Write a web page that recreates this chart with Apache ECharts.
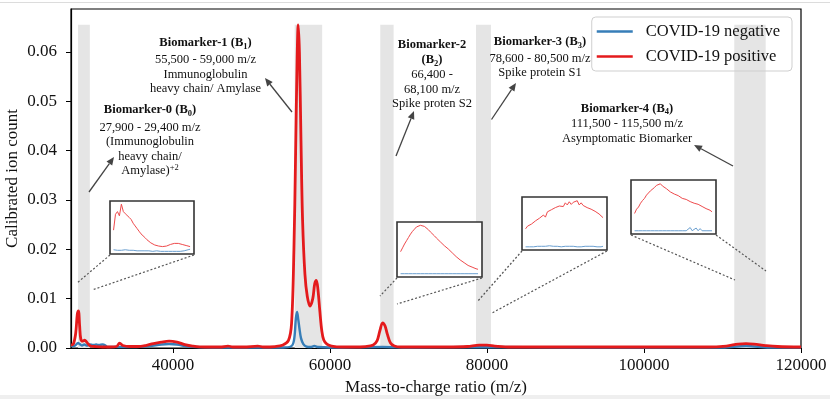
<!DOCTYPE html>
<html>
<head>
<meta charset="utf-8">
<script src="https://cdn.jsdelivr.net/npm/echarts@6/dist/echarts.min.js"></script>
<style>html,body{margin:0;padding:0;background:#fff}#c{width:830px;height:399px}</style>
</head>
<body>
<div id="c"></div>
<script>
// ---- main spectrum data (m/z, calibrated ion count) ----
var mzPos = [27000,27300,27600,27800,27950,28100,28250,28500,28750,28950,29200,29500,30000,31000,32000,32800,33200,33600,34500,35500,36500,37500,38500,39500,40500,41500,42500,44000,46000,47000,47600,49000,50800,51500,53000,54000,54700,55100,55400,55600,55800,55950,56100,56300,56500,56800,57100,57450,57800,58050,58250,58450,58700,58950,59200,59600,60200,61500,63000,64500,65500,66000,66350,66700,67000,67300,67700,68200,69000,72000,75000,77500,79000,80000,81000,83000,88000,93000,98000,103000,108000,110500,112000,113000,114000,115500,117000,120000];
var valPos = [0.0006,0.0008,0.0030,0.0068,0.0075,0.0045,0.0018,0.0014,0.0016,0.0013,0.0008,0.0004,0.0003,0.0002,0.0002,0.0003,0.0010,0.0005,0.0003,0.0003,0.0005,0.0009,0.0012,0.0014,0.0012,0.0007,0.0004,0.0002,0.0002,0.0004,0.0002,0.0002,0.0004,0.0002,0.0003,0.0006,0.0015,0.0050,0.0200,0.0380,0.0580,0.0655,0.0600,0.0420,0.0260,0.0150,0.0105,0.0085,0.0100,0.0130,0.0137,0.0120,0.0075,0.0035,0.0016,0.0008,0.0004,0.0002,0.0002,0.0003,0.0006,0.0015,0.0035,0.0051,0.0045,0.0028,0.0010,0.0004,0.0002,0.0002,0.0002,0.0003,0.0006,0.0006,0.0004,0.0002,0.0002,0.0002,0.0002,0.0002,0.0002,0.0004,0.0008,0.0009,0.0008,0.0005,0.0003,0.0002];
var mzNeg = [27000,27500,27900,28100,28400,28700,29000,29400,29800,30200,30600,31000,31400,31600,33000,35000,37000,38500,39500,40500,42000,45000,50000,54000,55000,55400,55650,55800,55950,56100,56300,56600,57000,57500,58000,58500,60000,66700,70000,80000,90000,100000,110000,113000,116000,120000];
var valNeg = [0.0004,0.0005,0.0010,0.0008,0.0005,0.0007,0.0005,0.0007,0.0006,0.0007,0.0006,0.0007,0.0005,0.0002,0.0002,0.0002,0.0004,0.0007,0.0008,0.0007,0.0003,0.0001,0.0001,0.0001,0.0003,0.0015,0.0060,0.0073,0.0058,0.0040,0.0020,0.0008,0.0003,0.0002,0.0004,0.0002,0.0001,0.0002,0.0001,0.0002,0.0001,0.0001,0.0001,0.0004,0.0001,0.0001];

// ---- biomarker bands ----
var bandStart = [27900,55500,66400,78600,111500];
var bandEnd   = [29400,59000,68100,80500,115500];
var bandTop = 0.0655;

// ---- axis ticks ----
var xTicks = [40000,60000,80000,100000,120000];
var yTicks = [0,0.01,0.02,0.03,0.04,0.05,0.06];

// ---- inset data (relative intensity, zoomed) ----
var inset1Pos = [0.45,0.75,0.80,0.72,0.94,0.80,0.76,0.77,0.69,0.65,0.58,0.53,0.48,0.43,0.38,0.35,0.31,0.27,0.24,0.21,0.19,0.17,0.16,0.15,0.145,0.14,0.145,0.15,0.16,0.18,0.19,0.20,0.21,0.20,0.19,0.18,0.17,0.16,0.15,0.14];
var inset1Neg = [0.08,0.08,0.07,0.08,0.07,0.07,0.08,0.07,0.07,0.06,0.07,0.06,0.06,0.07,0.06,0.06,0.06,0.05,0.06,0.06,0.05,0.05,0.06,0.05,0.05,0.05,0.05,0.05,0.05,0.05,0.05,0.05,0.05,0.06,0.05,0.06,0.06,0.07,0.08,0.09];
var inset2Pos = [0.46,0.53,0.60,0.66,0.72,0.78,0.83,0.87,0.91,0.93,0.94,0.92,0.92,0.89,0.86,0.82,0.79,0.75,0.71,0.68,0.64,0.61,0.57,0.54,0.51,0.48,0.44,0.41,0.37,0.34,0.31,0.28,0.26,0.23,0.21,0.19,0.18,0.16,0.15,0.14];
var inset2Neg = [0.06,0.06,0.06,0.06,0.06,0.06,0.06,0.06,0.06,0.06,0.06,0.06,0.06,0.06,0.06,0.06,0.06,0.06,0.06,0.06,0.06,0.06,0.06,0.06,0.06,0.06,0.06,0.06,0.06,0.06,0.06,0.06,0.06,0.06,0.06,0.06,0.06,0.06,0.06,0.06];
var inset3Pos = [0.40,0.45,0.43,0.49,0.50,0.55,0.54,0.60,0.63,0.66,0.62,0.72,0.70,0.76,0.74,0.80,0.78,0.83,0.86,0.82,0.89,0.85,0.91,0.86,0.90,0.88,0.93,0.85,0.89,0.84,0.86,0.80,0.82,0.77,0.79,0.73,0.72,0.68,0.66,0.61];
var inset3Neg = [0.06,0.07,0.06,0.07,0.06,0.07,0.07,0.06,0.07,0.08,0.07,0.07,0.08,0.07,0.07,0.06,0.07,0.07,0.06,0.07,0.07,0.06,0.07,0.06,0.07,0.07,0.06,0.07,0.06,0.06,0.07,0.06,0.07,0.06,0.07,0.06,0.06,0.07,0.06,0.07];
var inset4Pos = [0.38,0.46,0.50,0.57,0.62,0.66,0.72,0.74,0.80,0.82,0.86,0.90,0.88,0.93,0.89,0.87,0.84,0.82,0.78,0.79,0.74,0.75,0.71,0.70,0.66,0.68,0.64,0.63,0.60,0.61,0.57,0.56,0.55,0.52,0.51,0.49,0.47,0.45,0.44,0.41];
var inset4Neg = [0.06,0.06,0.06,0.06,0.06,0.06,0.06,0.06,0.06,0.06,0.06,0.06,0.06,0.06,0.06,0.06,0.06,0.06,0.06,0.06,0.06,0.06,0.06,0.06,0.06,0.07,0.06,0.06,0.12,0.06,0.07,0.11,0.06,0.10,0.06,0.06,0.06,0.06,0.06,0.06];

var RED = '#e41a1c', BLUE = '#377eb8';
var FONT = '"Liberation Serif", "Times New Roman", serif';

function pairs(xs, ys){ return xs.map(function(x,i){ return [x, ys[i]]; }); }
function idx(ys){ return ys.map(function(y,i){ return [i, y]; }); }

var chart = echarts.init(document.getElementById('c'), null, {renderer:'canvas'});

var insetBoxes = [
  {left:110, top:201, width:84, height:53},
  {left:397, top:222, width:85, height:55},
  {left:522, top:197, width:85, height:53},
  {left:631, top:180, width:85, height:54}
];
var insetPos = [inset1Pos, inset2Pos, inset3Pos, inset4Pos];
var insetNeg = [inset1Neg, inset2Neg, inset3Neg, inset4Neg];

var grids = [{left:71, top:9, right:29, bottom:51, show:true, borderColor:'#000', borderWidth:1.2, backgroundColor:'transparent', outerBoundsMode:'none', containLabel:false}];
var xAxes = [{
  type:'value', gridIndex:0, min:27000, max:120000,
  axisLine:{show:true, lineStyle:{color:'#000', width:1.2}},
  axisTick:{show:true, length:5, lineStyle:{color:'#000'}, customValues:xTicks},
  axisLabel:{fontFamily:FONT, fontSize:17, color:'#111', margin:9, customValues:xTicks, formatter:function(v){return String(v);}},
  splitLine:{show:false},
  name:'Mass-to-charge ratio (m/z)', nameLocation:'middle', nameGap:31, nameMoveOverlap:false,
  nameTextStyle:{fontFamily:FONT, fontSize:17, color:'#111'}
}];
var yAxes = [{
  type:'value', gridIndex:0, min:0, max:0.0687,
  axisLine:{show:true, lineStyle:{color:'#000', width:1.2}},
  axisTick:{show:true, length:5, lineStyle:{color:'#000'}, customValues:yTicks},
  axisLabel:{fontFamily:FONT, fontSize:17, color:'#111', margin:14, customValues:yTicks, formatter:function(v){return v.toFixed(2);}},
  splitLine:{show:false},
  name:'Calibrated ion count', nameLocation:'middle', nameGap:50, nameMoveOverlap:false,
  nameTextStyle:{fontFamily:FONT, fontSize:17, color:'#111'}
}];

var series = [
  {
    type:'line', name:'bands', data:[], xAxisIndex:0, yAxisIndex:0, silent:true,
    markArea:{silent:true, itemStyle:{color:'#e5e5e5'},
      data: bandStart.map(function(s,i){ return [{xAxis:s, yAxis:0},{xAxis:bandEnd[i], yAxis:bandTop}]; })}
  },
  {type:'line', name:'COVID-19 negative', data:pairs(mzNeg, valNeg), xAxisIndex:0, yAxisIndex:0,
   smooth:0.35, showSymbol:false, symbol:'none', lineStyle:{color:BLUE, width:2.4}, itemStyle:{color:BLUE}, z:3},
  {type:'line', name:'COVID-19 positive', data:pairs(mzPos, valPos), xAxisIndex:0, yAxisIndex:0,
   smooth:0.35, showSymbol:false, symbol:'none', lineStyle:{color:RED, width:2.8}, itemStyle:{color:RED}, z:4}
];

insetBoxes.forEach(function(b, k){
  var gi = k + 1;
  grids.push({left:b.left, top:b.top, width:b.width, height:b.height, show:true, borderColor:'#333', borderWidth:1.6, backgroundColor:'#fff', z:5, outerBoundsMode:'none', containLabel:false});
  xAxes.push({type:'value', gridIndex:gi, min:-1.8, max:41, show:false});
  yAxes.push({type:'value', gridIndex:gi, min:0, max:1, show:false});
  series.push({type:'line', data:idx(insetNeg[k]), xAxisIndex:gi, yAxisIndex:gi, showSymbol:false, symbol:'none', silent:true,
    lineStyle:{color:'#6a9fd0', width:1}, z:6});
  series.push({type:'line', data:idx(insetPos[k]), xAxisIndex:gi, yAxisIndex:gi, showSymbol:false, symbol:'none', silent:true,
    lineStyle:{color:'#ee4a4c', width:1}, z:7});
});

// ---- annotations (pixel layout) ----
var graphics = [];
graphics.push({type:'line', shape:{x1:0, y1:2.5, x2:830, y2:2.5}, style:{stroke:'#dcdcdc', lineWidth:1}, silent:true});
graphics.push({type:'rect', shape:{x:0, y:395, width:830, height:4}, style:{fill:'#efefef'}, silent:true});

function txt(x, y, rich, bold){
  graphics.push({type:'text', x:x, y:y, z:20, silent:true, style:{
    text: rich, fontFamily:FONT, fontSize:12.5, fontWeight: bold ? 'bold' : 'normal', fill:'#111',
    align:'center', verticalAlign:'middle',
    rich:{
      b:{fontFamily:FONT, fontSize:12.5, fontWeight:'bold', fill:'#111', lineHeight:16, verticalAlign:'middle'},
      sub:{fontFamily:FONT, fontSize:8.5, fontWeight:'bold', fill:'#111', lineHeight:9, verticalAlign:'bottom', padding:[6,0,0,0]},
      n:{fontFamily:FONT, fontSize:12.5, fill:'#111', lineHeight:16, verticalAlign:'middle'},
      sup:{fontFamily:FONT, fontSize:8.5, fill:'#111', lineHeight:9, verticalAlign:'top', padding:[0,0,6,0]}
    }
  }});
}
// B0
txt(150, 110, '{b|Biomarker-0 (B}{sub|0}{b|)}');
txt(150, 127.5, '27,900 - 29,400 m/z');
txt(150, 142, '(Immunoglobulin');
txt(150, 156.5, 'heavy chain/');
txt(150, 171, '{n|Amylase)}{sup|+2}');
// B1
txt(205.5, 43, '{b|Biomarker-1 (B}{sub|1}{b|)}');
txt(205.5, 60, '55,500 - 59,000 m/z');
txt(205.5, 74.5, 'Immunoglobulin');
txt(205.5, 89, 'heavy chain/ Amylase');
// B2
txt(432, 44.5, '{b|Biomarker-2}');
txt(432, 60, '{b|(B}{sub|2}{b|)}');
txt(432, 75, '66,400 -');
txt(432, 89.5, '68,100 m/z');
txt(432, 104, 'Spike proten S2');
// B3
txt(540, 42, '{b|Biomarker-3 (B}{sub|3}{b|)}');
txt(540, 58.5, '78,600 - 80,500 m/z');
txt(540, 73, 'Spike protein S1');
// B4
txt(627, 108.5, '{b|Biomarker-4 (B}{sub|4}{b|)}');
txt(627, 124, '111,500 - 115,500 m/z');
txt(627, 139, 'Asymptomatic Biomarker');

function arrow(x1, y1, x2, y2){
  var dx = x2 - x1, dy = y2 - y1, L = Math.sqrt(dx*dx + dy*dy);
  var ux = dx / L, uy = dy / L, hl = 8, hw = 3.5;
  var bx = x2 - ux*hl, by = y2 - uy*hl;
  graphics.push({type:'line', z:20, silent:true, shape:{x1:x1, y1:y1, x2:bx, y2:by}, style:{stroke:'#444', lineWidth:1.3}});
  graphics.push({type:'polygon', z:20, silent:true, shape:{points:[[x2,y2],[bx - uy*hw, by + ux*hw],[bx + uy*hw, by - ux*hw]]}, style:{fill:'#444'}});
}
arrow(89, 192, 114, 157);
arrow(292, 112, 265, 78);
arrow(396, 156, 414, 111);
arrow(491.5, 119.5, 516, 83);
arrow(733, 166, 694, 145);

function dotted(x1, y1, x2, y2){
  graphics.push({type:'line', z:20, silent:true, shape:{x1:x1, y1:y1, x2:x2, y2:y2}, style:{stroke:'#555', lineWidth:1.2, lineDash:[2,2]}});
}
dotted(110, 255, 77, 283);
dotted(194, 255, 92, 290);
dotted(397, 278, 380, 296);
dotted(482, 278, 397, 304);
dotted(522, 251, 477, 302);
dotted(607, 251, 492, 313);
dotted(631, 235, 735, 280);
dotted(716, 235, 766, 271);

chart.setOption({
  animation:false,
  backgroundColor:'#fff',
  grid: grids,
  xAxis: xAxes,
  yAxis: yAxes,
  legend:{
    data:['COVID-19 negative','COVID-19 positive'],
    orient:'vertical', right:38, top:17,
    itemWidth:36, itemHeight:14, itemGap:8,
    padding:[6,12,6,5],
    backgroundColor:'transparent', borderColor:'#cfcfcf', borderWidth:1, borderRadius:4,
    textStyle:{fontFamily:FONT, fontSize:16.5, color:'#111', padding:[0,0,0,8]},
    icon:'path://M0,6 L36,6 L36,8.5 L0,8.5 Z'
  },
  series: series,
  graphic: graphics
});
</script>
</body>
</html>
